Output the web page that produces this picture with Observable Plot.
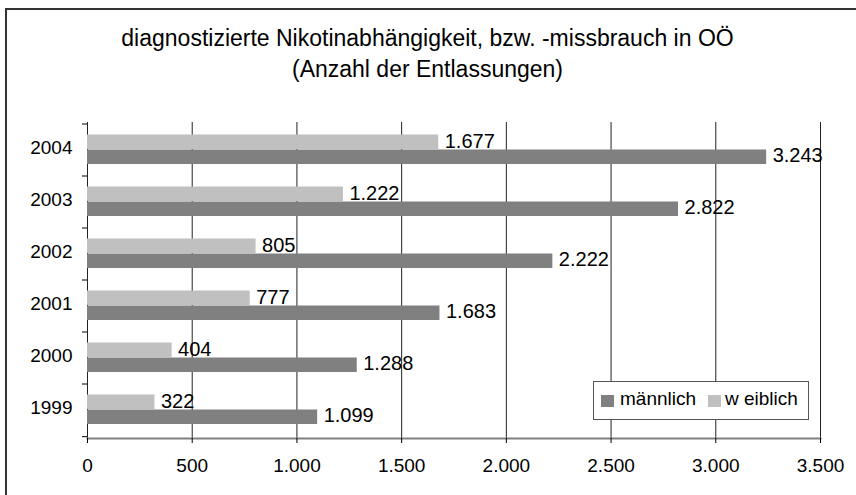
<!DOCTYPE html>
<html>
<head>
<meta charset="utf-8">
<script src="https://cdn.jsdelivr.net/npm/d3@7"></script>
<script src="https://cdn.jsdelivr.net/npm/@observablehq/plot@0.6"></script>
<style>
  body { margin: 0; background: #fff; font-family: "Liberation Sans", Arial, sans-serif; }
  #wrap { position: relative; width: 856px; height: 495px; overflow: hidden; background: #fff; }
  #frame { position: absolute; left: 5px; top: 8px; width: 900px; height: 600px;
           border-top: 2px solid #333; border-left: 2px solid #333; box-sizing: border-box; }
  #title { position: absolute; left: 0; width: 855px; top: 23px; text-align: center;
           font-size: 23px; line-height: 31px; color: #000; }
  #chart { position: absolute; left: 0; top: 0; }
  #legend { position: absolute; left: 593px; top: 381px; width: 216px; height: 39px;
            border: 1px solid #555; background: #fff; box-sizing: border-box; font-size: 19px; }
  #legend .sw { position: absolute; width: 13px; height: 12px; top: 13px; }
  #legend .lb { position: absolute; top: 7px; line-height: 20px; white-space: pre; }
</style>
</head>
<body>
<div id="wrap">
  <div id="frame"></div>
  <div id="chart"></div>
  <div id="title"></div>
  <div id="legend"></div>
</div>
<script>
// ---- data ----
const titleLines = ["diagnostizierte Nikotinabhängigkeit, bzw. -missbrauch in OÖ", "(Anzahl der Entlassungen)"];
const years = ["2004", "2003", "2002", "2001", "2000", "1999"];
const maennlich = [3243, 2822, 2222, 1683, 1288, 1099];
const weiblich = [1677, 1222, 805, 777, 404, 322];
const seriesNames = ["männlich", "w eiblich"];
const seriesColors = ["#808080", "#c0c0c0"];
const xTicks = [0, 500, 1000, 1500, 2000, 2500, 3000, 3500];

const de = d3.formatLocale({decimal: ",", thousands: ".", grouping: [3], currency: ["", " €"]});
const fmt = de.format(",d");

const rowsM = years.map((y, i) => ({year: y, value: maennlich[i]}));
const rowsW = years.map((y, i) => ({year: y, value: weiblich[i]}));

document.getElementById("title").innerHTML = titleLines.join("<br>");

const W = 856, H = 495, mT = 122, mB = 57, mL = 87, mR = 36;
const font = "Liberation Sans, Arial, sans-serif";

// band-boundary ticks on the category axis
function yBoundaryTicks(index, scales, values, dimensions) {
  const g = d3.create("svg:g");
  const bw = (dimensions.height - dimensions.marginTop - dimensions.marginBottom) / years.length;
  const x0 = dimensions.marginLeft;
  const ys = years.map(y => scales.y(y)).concat([scales.y(years[years.length - 1]) + bw]);
  for (const yy of ys) {
    g.append("line").attr("x1", x0 - 5).attr("x2", x0).attr("y1", yy).attr("y2", yy)
      .attr("stroke", "#000").attr("stroke-width", 1);
  }
  return g.node();
}

const chart = Plot.plot({
  width: W, height: H,
  marginTop: mT, marginBottom: mB, marginLeft: mL, marginRight: mR,
  style: {fontFamily: font, background: "transparent", color: "#000"},
  x: {domain: [0, 3500], ticks: xTicks},
  y: {domain: years, padding: 0},
  marks: [
    Plot.ruleX(xTicks, {stroke: "#222", strokeWidth: 1}),
    Plot.barX(rowsW, {x: "value", y: "year", fill: seriesColors[1], insetTop: 10.5, insetBottom: 27}),
    Plot.barX(rowsM, {x: "value", y: "year", fill: seriesColors[0], insetTop: 25.5, insetBottom: 12}),
    Plot.text(rowsW, {x: "value", y: "year", text: d => fmt(d.value), dx: 6, dy: -9, textAnchor: "start", fontSize: 20, fill: "#000"}),
    Plot.text(rowsM, {x: "value", y: "year", text: d => fmt(d.value), dx: 6, dy: 5.5, textAnchor: "start", fontSize: 20, fill: "#000"}),
    Plot.frame({anchor: "bottom", stroke: "#808080", strokeWidth: 2}),
    Plot.axisY({tickSize: 0, tickPadding: 15, fontSize: 19, label: null, dy: -3}),
    Plot.axisX({ticks: xTicks, tickFormat: fmt, tickSize: 5, tickPadding: 15, fontSize: 19, label: null}),
    yBoundaryTicks
  ]
});
document.getElementById("chart").appendChild(chart);

// legend
const leg = document.getElementById("legend");
const legPos = [{sw: 7, lb: 26}, {sw: 114, lb: 131}];
seriesNames.forEach((n, i) => {
  const s = document.createElement("div");
  s.className = "sw"; s.style.left = legPos[i].sw + "px"; s.style.background = seriesColors[i];
  const l = document.createElement("div");
  l.className = "lb"; l.style.left = legPos[i].lb + "px"; l.textContent = n;
  leg.appendChild(s); leg.appendChild(l);
});
</script>
</body>
</html>
